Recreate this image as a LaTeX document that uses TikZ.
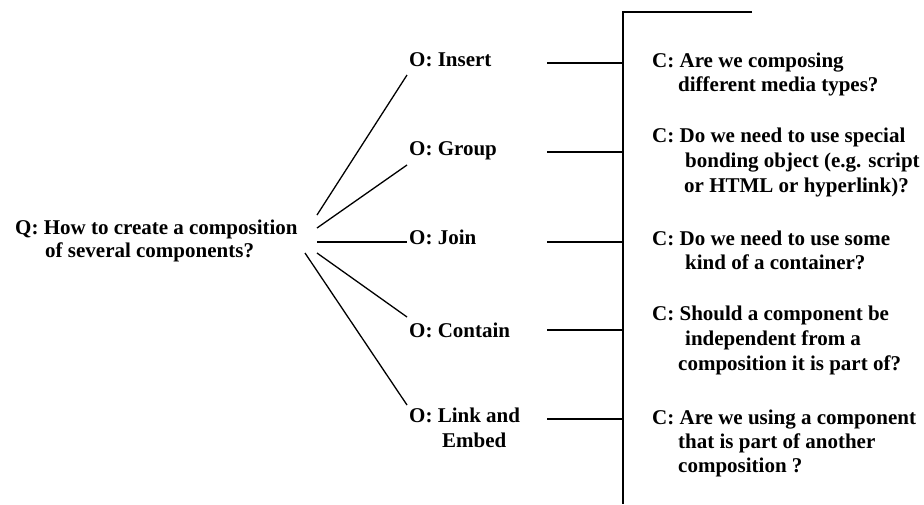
\documentclass[tikz,border=0pt]{standalone}
\usepackage{fontspec}
\setmainfont{Liberation Serif}
\begin{document}
\begin{tikzpicture}[x=1pt,y=-1pt,
  txt/.style={font=\fontsize{21}{24}\selectfont\bfseries, inner sep=0pt, anchor=base west},
  conn/.style={line width=1.3pt, black}]
\useasboundingbox (0,0) rectangle (924,504);
% Question
\node[txt] (q1) at (15,234) {Q: How to create a composition};
\node[txt] (q2) at (45,257) {of several components?};
% Options
\node[txt] (oins) at (409,66) {O: Insert};
\node[txt] (ogrp) at (409,155) {O: Group};
\node[txt] (ojoin) at (409,244) {O: Join};
\node[txt] (ocon) at (409,337) {O: Contain};
\node[txt] (olink) at (409,422) {O: Link and};
\node[txt] (oemb) at (442,447) {Embed};
% Criteria
\node[txt] (c1a) at (652,67) {C: Are we composing};
\node[txt] (c1b) at (678,91) {different media types?};
\node[txt] (c2a) at (652,142) {C: Do we need to use special};
\node[txt] (c2b) at (685,167) {bonding object (e.g. script};
\node[txt] (c2c) at (684,192) {or HTML or hyperlink)?};
\node[txt] (c3a) at (652,245) {C: Do we need to use some};
\node[txt] (c3b) at (685,269) {kind of a container?};
\node[txt] (c4a) at (652,320) {C: Should a component be};
\node[txt] (c4b) at (685,345) {independent from a};
\node[txt] (c4c) at (678,370) {composition it is part of?};
\node[txt] (c5a) at (652,424) {C: Are we using a component};
\node[txt] (c5b) at (678,448) {that is part of another};
\node[txt] (c5c) at (678,472) {composition ?};
% connector end points
\coordinate (qi) at (317,215); \coordinate (pi) at (407,75);
\coordinate (qg) at (317,228); \coordinate (pg) at (407,165);
\coordinate (qj) at (317,242); \coordinate (pj) at (407,242);
\coordinate (qc) at (317,253); \coordinate (pc) at (407,317);
\coordinate (ql) at (305,253); \coordinate (pl) at (407,405);
\coordinate (bi) at (547,63);  \coordinate (vi) at (623,63);
\coordinate (bg) at (547,152); \coordinate (vg) at (623,152);
\coordinate (bj) at (547,242); \coordinate (vj) at (623,242);
\coordinate (bc) at (547,330); \coordinate (vc) at (623,330);
\coordinate (bl) at (547,419); \coordinate (vl) at (623,419);
\coordinate (vtop) at (623,12); \coordinate (vbot) at (623,504);
\coordinate (ttop) at (752,12);
% connectors
\draw[conn] (qi) -- (pi);
\draw[conn] (qg) -- (pg);
\draw[conn] (qj) -- (pj);
\draw[conn] (qc) -- (pc);
\draw[conn] (ql) -- (pl);
\draw[conn] (bi) -- (vi);
\draw[conn] (bg) -- (vg);
\draw[conn] (bj) -- (vj);
\draw[conn] (bc) -- (vc);
\draw[conn] (bl) -- (vl);
\draw[conn] (ttop) -- (vtop) -- (vbot);
\end{tikzpicture}
\end{document}
